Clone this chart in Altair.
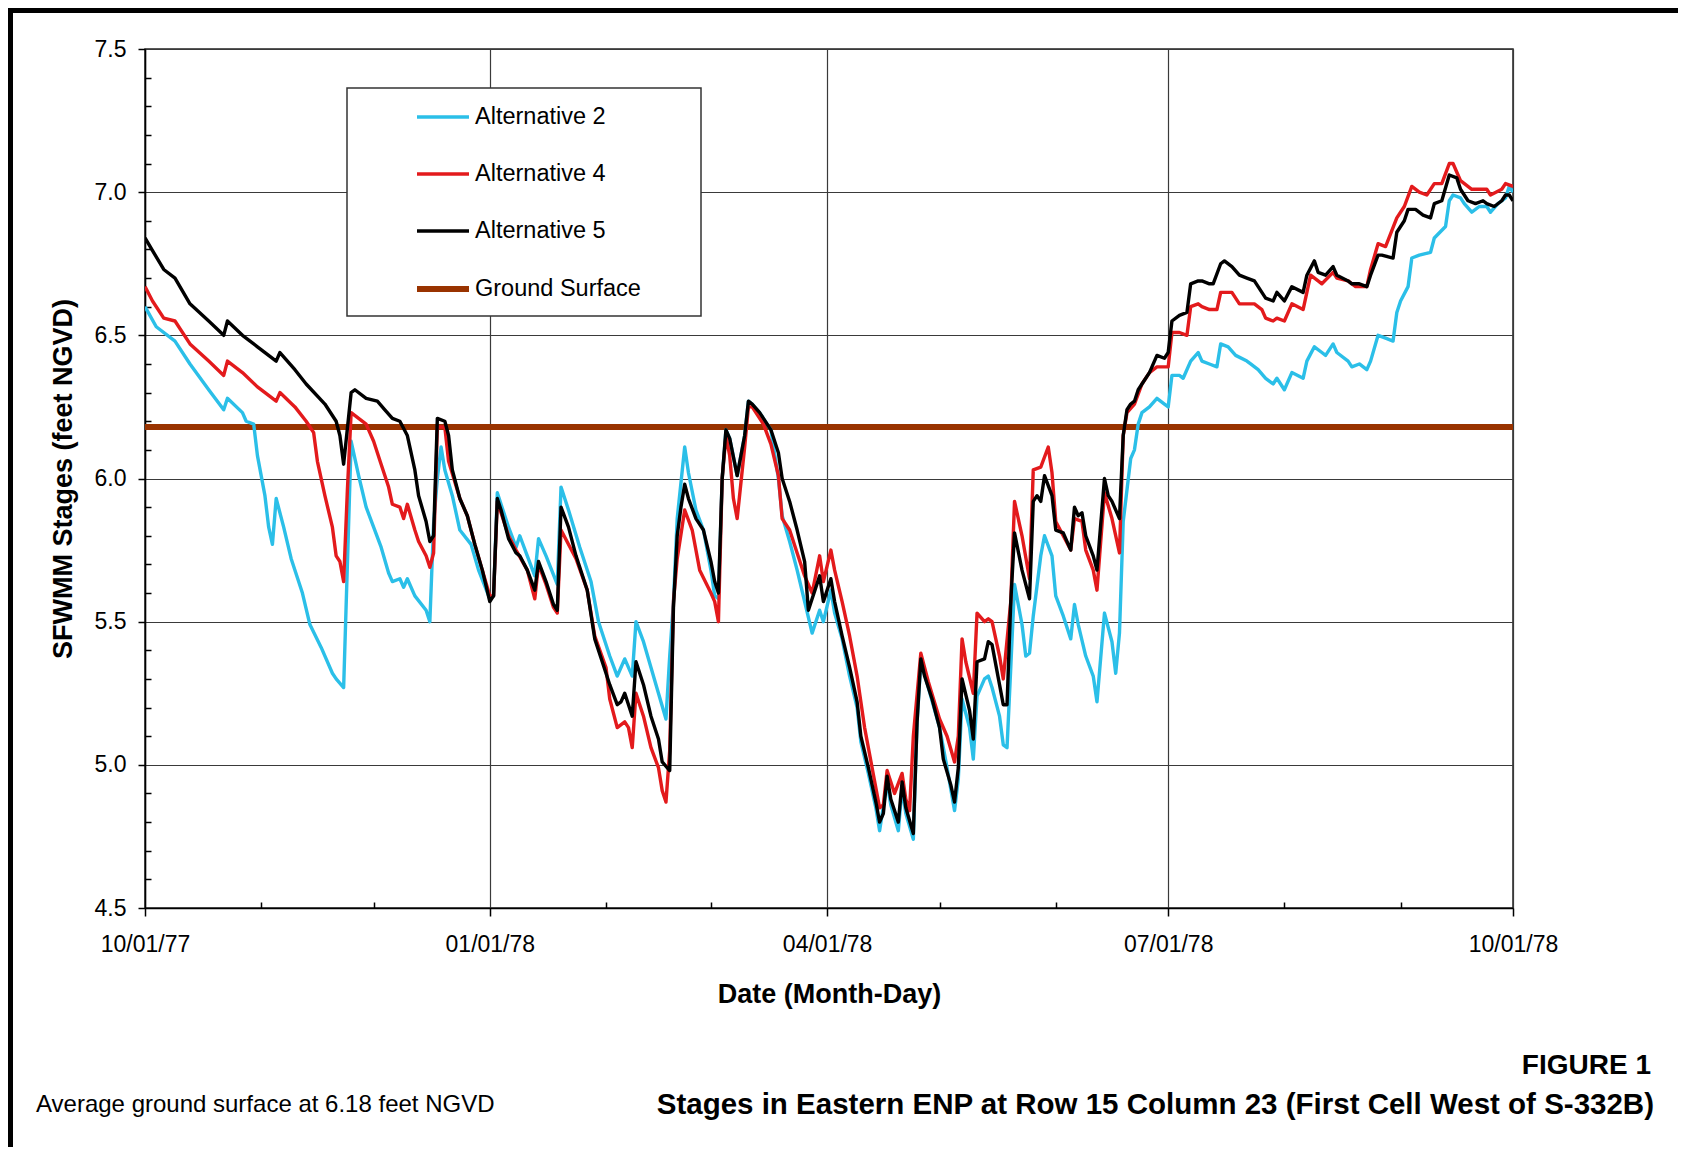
import altair as alt
import pandas as pd

FONT = "Liberation Sans"
START = "1977-10-01"
END = "1978-10-01"

SERIES = ["Alternative 2", "Alternative 4", "Alternative 5", "Ground Surface"]
COLORS = ["#2BBFE8", "#E31A1C", "#000000", "#993300"]
WIDTHS = [3.4, 3.4, 3.4, 6]

# day offsets from 10/01/77 and stages (feet NGVD)
ALT2_DAYS = [0, 3, 8, 12, 17, 21, 22, 26, 27, 29, 30, 32, 33, 34, 35, 37, 39, 42, 44, 47,
             50, 51, 53, 54, 55, 57, 59, 61, 63, 65, 66, 68, 69, 70, 72, 75, 76, 77, 78, 79,
             80, 82, 84, 87, 89, 92, 93, 94, 97, 99, 100, 102, 104, 105, 107, 110, 111, 113, 116, 119,
             121, 124, 126, 127, 128, 130, 131, 133, 135, 137, 139, 140, 141, 142, 144, 145, 147, 149, 151, 152,
             153, 154, 155, 156, 158, 160, 161, 162, 164, 165, 167, 169, 170, 172, 174, 176, 178, 180, 181, 183,
             184, 186, 188, 190, 191, 193, 195, 196, 198, 199, 201, 202, 203, 205, 206, 207, 209, 212, 214, 216,
             217, 218, 220, 221, 222, 224, 225, 226, 228, 229, 230, 231, 232, 234, 235, 236, 237, 239, 240, 242,
             243, 245, 247, 248, 249, 251, 253, 254, 256, 258, 259, 260, 261, 262, 263, 264, 265, 266, 268, 270,
             272, 273, 274, 276, 277, 279, 281, 282, 284, 286, 287, 289, 291, 294, 295, 297, 299, 301, 302, 304,
             306, 309, 310, 312, 314, 315, 317, 318, 321, 322, 324, 326, 327, 329, 331, 333, 334, 335, 337, 338,
             340, 343, 344, 347, 348, 349, 351, 352, 354, 356, 358, 359, 361, 363, 364, 365]
ALT2_STAGE = [6.60, 6.53, 6.48, 6.40, 6.31, 6.24, 6.28, 6.23, 6.20, 6.19, 6.08, 5.94, 5.83, 5.77, 5.93, 5.83, 5.72, 5.60, 5.49, 5.41,
              5.32, 5.30, 5.27, 5.70, 6.13, 6.01, 5.90, 5.83, 5.76, 5.67, 5.64, 5.65, 5.62, 5.65, 5.59, 5.54, 5.50, 5.84, 6.00, 6.11,
              6.03, 5.94, 5.82, 5.77, 5.68, 5.58, 5.59, 5.95, 5.83, 5.76, 5.80, 5.73, 5.66, 5.79, 5.73, 5.63, 5.97, 5.89, 5.76, 5.64,
              5.50, 5.38, 5.31, 5.34, 5.37, 5.31, 5.50, 5.43, 5.34, 5.25, 5.16, 5.38, 5.57, 5.86, 6.11, 6.02, 5.89, 5.82, 5.68, 5.59,
              5.58, 6.00, 6.17, 6.14, 6.01, 6.15, 6.27, 6.26, 6.23, 6.21, 6.17, 6.00, 5.87, 5.78, 5.68, 5.57, 5.46, 5.54, 5.50, 5.61,
              5.53, 5.44, 5.31, 5.20, 5.08, 4.97, 4.85, 4.77, 4.94, 4.86, 4.77, 4.92, 4.83, 4.74, 5.15, 5.36, 5.27, 5.13, 4.99, 4.84,
              4.95, 5.23, 5.13, 5.02, 5.24, 5.30, 5.31, 5.27, 5.17, 5.07, 5.06, 5.34, 5.63, 5.49, 5.38, 5.39, 5.52, 5.73, 5.80, 5.73,
              5.59, 5.52, 5.44, 5.56, 5.49, 5.38, 5.31, 5.22, 5.53, 5.43, 5.32, 5.46, 5.85, 5.96, 6.07, 6.10, 6.19, 6.23, 6.25, 6.28,
              6.26, 6.25, 6.36, 6.36, 6.35, 6.41, 6.44, 6.41, 6.40, 6.39, 6.47, 6.46, 6.43, 6.41, 6.40, 6.38, 6.35, 6.33, 6.35, 6.31,
              6.37, 6.35, 6.41, 6.46, 6.44, 6.43, 6.47, 6.44, 6.41, 6.39, 6.40, 6.38, 6.41, 6.50, 6.49, 6.48, 6.58, 6.62, 6.67, 6.77,
              6.78, 6.79, 6.84, 6.88, 6.97, 6.99, 6.98, 6.96, 6.93, 6.95, 6.95, 6.93, 6.96, 6.98, 7.02, 7.00]

ALT4_DAYS = [0, 2, 5, 8, 12, 17, 21, 22, 26, 30, 35, 36, 40, 43, 45, 46, 48, 50, 51, 52,
             53, 54, 55, 57, 59, 61, 63, 65, 66, 68, 69, 70, 72, 73, 75, 76, 77, 78, 80, 81,
             84, 86, 88, 90, 92, 93, 94, 97, 99, 102, 104, 105, 107, 109, 110, 111, 115, 118, 120, 123,
             124, 126, 128, 129, 130, 131, 133, 135, 137, 138, 139, 140, 141, 142, 144, 146, 148, 151, 152, 153,
             154, 155, 156, 157, 158, 160, 161, 162, 165, 167, 169, 170, 172, 174, 176, 178, 180, 181, 183, 184,
             186, 188, 190, 192, 194, 196, 197, 198, 200, 202, 203, 204, 205, 207, 209, 212, 214, 216, 217, 218,
             219, 221, 222, 224, 225, 226, 228, 229, 231, 232, 234, 236, 237, 239, 241, 242, 243, 245, 247, 248,
             250, 251, 253, 254, 256, 258, 260, 261, 262, 264, 266, 268, 270, 273, 274, 276, 278, 279, 281, 282,
             284, 286, 287, 290, 292, 294, 296, 298, 299, 301, 302, 304, 306, 309, 310, 311, 313, 314, 317, 318,
             321, 323, 326, 327, 329, 331, 334, 336, 338, 340, 342, 344, 346, 348, 349, 351, 354, 356, 358, 359,
             362, 363, 365]
ALT4_STAGE = [6.67, 6.62, 6.56, 6.55, 6.47, 6.41, 6.36, 6.41, 6.37, 6.32, 6.27, 6.30, 6.25, 6.20, 6.16, 6.06, 5.94, 5.83, 5.73, 5.71,
              5.64, 5.96, 6.23, 6.21, 6.19, 6.13, 6.05, 5.97, 5.91, 5.90, 5.86, 5.91, 5.82, 5.78, 5.73, 5.69, 5.74, 6.18, 6.18, 6.06,
              5.93, 5.87, 5.77, 5.68, 5.59, 5.59, 5.92, 5.80, 5.75, 5.68, 5.58, 5.70, 5.63, 5.55, 5.53, 5.82, 5.72, 5.61, 5.45, 5.34,
              5.23, 5.13, 5.15, 5.13, 5.06, 5.25, 5.17, 5.06, 4.99, 4.91, 4.87, 5.05, 5.57, 5.72, 5.89, 5.82, 5.68, 5.60, 5.57, 5.50,
              6.00, 6.15, 6.08, 5.93, 5.86, 6.11, 6.25, 6.25, 6.19, 6.12, 6.01, 5.86, 5.82, 5.74, 5.66, 5.60, 5.73, 5.64, 5.75, 5.68,
              5.57, 5.45, 5.31, 5.13, 4.99, 4.85, 4.86, 4.98, 4.90, 4.97, 4.88, 4.84, 5.10, 5.39, 5.29, 5.16, 5.10, 5.01, 5.10, 5.44,
              5.36, 5.25, 5.53, 5.50, 5.51, 5.50, 5.38, 5.30, 5.57, 5.92, 5.80, 5.65, 6.03, 6.04, 6.11, 6.02, 5.85, 5.80, 5.75, 5.86,
              5.85, 5.75, 5.68, 5.61, 5.95, 5.86, 5.74, 6.15, 6.23, 6.26, 6.33, 6.37, 6.39, 6.39, 6.51, 6.51, 6.50, 6.60, 6.61, 6.60,
              6.59, 6.59, 6.65, 6.65, 6.61, 6.61, 6.61, 6.59, 6.56, 6.55, 6.56, 6.55, 6.61, 6.59, 6.65, 6.71, 6.69, 6.68, 6.72, 6.70,
              6.69, 6.67, 6.67, 6.73, 6.82, 6.81, 6.91, 6.95, 7.02, 7.00, 6.99, 7.03, 7.03, 7.10, 7.10, 7.04, 7.01, 7.01, 7.01, 6.99,
              7.01, 7.03, 7.02]

ALT5_DAYS = [0, 5, 8, 12, 17, 21, 22, 26, 30, 35, 36, 40, 43, 48, 51, 52, 53, 55, 56, 59,
             62, 64, 66, 68, 70, 72, 73, 75, 76, 77, 78, 80, 81, 82, 84, 86, 88, 90, 92, 93,
             94, 95, 97, 99, 100, 102, 104, 105, 107, 109, 110, 111, 113, 115, 118, 120, 122, 124, 126, 127,
             128, 130, 131, 133, 135, 137, 138, 140, 141, 142, 143, 144, 145, 147, 149, 151, 152, 153, 154, 155,
             156, 158, 160, 161, 162, 164, 165, 167, 169, 170, 172, 174, 176, 177, 178, 180, 181, 183, 184, 186,
             188, 190, 191, 193, 195, 196, 197, 198, 199, 201, 202, 203, 205, 206, 207, 208, 210, 212, 213, 215,
             216, 217, 218, 220, 221, 222, 224, 225, 226, 228, 229, 230, 231, 232, 234, 236, 237, 238, 239, 240,
             242, 243, 245, 247, 248, 249, 250, 251, 253, 254, 256, 257, 258, 260, 261, 262, 263, 264, 265, 266,
             268, 270, 272, 273, 274, 276, 278, 279, 281, 282, 284, 285, 287, 288, 290, 292, 294, 296, 297, 299,
             301, 302, 304, 306, 309, 310, 312, 313, 315, 317, 318, 321, 322, 324, 326, 327, 329, 330, 333, 334,
             336, 337, 339, 341, 343, 344, 346, 348, 350, 351, 353, 355, 357, 358, 360, 362, 363, 364, 365]
ALT5_STAGE = [6.84, 6.73, 6.70, 6.61, 6.55, 6.50, 6.55, 6.50, 6.46, 6.41, 6.44, 6.38, 6.33, 6.26, 6.20, 6.15, 6.05, 6.30, 6.31, 6.28,
              6.27, 6.24, 6.21, 6.20, 6.15, 6.03, 5.94, 5.85, 5.78, 5.80, 6.21, 6.20, 6.15, 6.03, 5.93, 5.87, 5.77, 5.68, 5.57, 5.59,
              5.93, 5.89, 5.79, 5.74, 5.73, 5.68, 5.61, 5.71, 5.64, 5.56, 5.54, 5.90, 5.83, 5.73, 5.61, 5.44, 5.36, 5.28, 5.21, 5.22,
              5.25, 5.17, 5.36, 5.28, 5.17, 5.09, 5.01, 4.98, 5.55, 5.80, 5.90, 5.98, 5.93, 5.86, 5.82, 5.71, 5.64, 5.60, 6.00, 6.17,
              6.14, 6.01, 6.15, 6.27, 6.26, 6.23, 6.21, 6.17, 6.09, 6.00, 5.92, 5.82, 5.71, 5.54, 5.58, 5.66, 5.57, 5.65, 5.57, 5.45,
              5.34, 5.22, 5.10, 4.99, 4.87, 4.80, 4.83, 4.96, 4.88, 4.80, 4.94, 4.85, 4.76, 5.15, 5.37, 5.31, 5.23, 5.13, 5.02, 4.93,
              4.87, 4.99, 5.30, 5.19, 5.09, 5.36, 5.37, 5.43, 5.42, 5.28, 5.21, 5.21, 5.57, 5.81, 5.68, 5.58, 5.92, 5.94, 5.92, 6.01,
              5.94, 5.82, 5.81, 5.75, 5.90, 5.87, 5.88, 5.80, 5.73, 5.68, 6.00, 5.94, 5.92, 5.86, 6.15, 6.24, 6.26, 6.27, 6.31, 6.33,
              6.37, 6.43, 6.42, 6.44, 6.55, 6.57, 6.58, 6.68, 6.69, 6.69, 6.68, 6.68, 6.75, 6.76, 6.74, 6.71, 6.70, 6.69, 6.67, 6.63,
              6.62, 6.65, 6.62, 6.67, 6.65, 6.71, 6.76, 6.72, 6.71, 6.74, 6.71, 6.69, 6.68, 6.68, 6.67, 6.71, 6.78, 6.78, 6.77, 6.86,
              6.90, 6.94, 6.94, 6.92, 6.91, 6.96, 6.97, 7.06, 7.05, 7.01, 6.97, 6.96, 6.97, 6.96, 6.95, 6.97, 6.99, 6.99, 6.97]

GROUND_DAYS = [0, 365]
GROUND_STAGE = [6.18, 6.18]

X_MAJOR = ["1977-10-01", "1978-01-01", "1978-04-01", "1978-07-01", "1978-10-01"]
X_MINOR = ["1977-11-01", "1977-12-01", "1978-02-01", "1978-03-01",
           "1978-05-01", "1978-06-01", "1978-08-01", "1978-09-01"]
Y_MAJOR = [4.5, 5.0, 5.5, 6.0, 6.5, 7.0, 7.5]
Y_MINOR = [4.6, 4.7, 4.8, 4.9, 5.1, 5.2, 5.3, 5.4, 5.6, 5.7, 5.8, 5.9,
           6.1, 6.2, 6.3, 6.4, 6.6, 6.7, 6.8, 6.9, 7.1, 7.2, 7.3, 7.4]

Y_TITLE = "SFWMM Stages (feet NGVD)"
X_TITLE = "Date (Month-Day)"
FOOTNOTE = "Average ground surface at 6.18 feet NGVD"
FIG_LABEL = "FIGURE 1"
FIG_TITLE = "Stages in Eastern ENP at Row 15 Column 23 (First Cell West of S-332B)"

W, H = 1368, 859


def iso(d):
    return (pd.Timestamp(START) + pd.Timedelta(days=int(d))).strftime("%Y-%m-%dT%H:%M:%S")


def dt(s):
    t = pd.Timestamp(s)
    return alt.DateTime(year=t.year, month=t.month, date=t.day)


def frame(name, days, stages):
    return pd.DataFrame({"date": [iso(d) for d in days], "stage": stages, "series": name})


data = pd.concat([
    frame("Ground Surface", GROUND_DAYS, GROUND_STAGE),
    frame("Alternative 2", ALT2_DAYS, ALT2_STAGE),
    frame("Alternative 4", ALT4_DAYS, ALT4_STAGE),
    frame("Alternative 5", ALT5_DAYS, ALT5_STAGE),
], ignore_index=True)

xscale = alt.Scale(domain=[dt(START), dt(END)])
yscale = alt.Scale(domain=[4.5, 7.5], nice=False, zero=False)

legend = alt.Legend(
    title=None, orient="none", legendX=269, legendY=40,
    symbolType="stroke", symbolSize=2704, symbolStrokeWidth=3,
    labelFontSize=23.5, labelFont=FONT, labelColor="black", labelOffset=3,
    rowPadding=17, padding=0, labelLimit=400,
)

lines = alt.Chart(data).mark_line(clip=True, strokeJoin="round", strokeCap="butt").encode(
    x=alt.X("date:T", scale=xscale,
            axis=alt.Axis(values=[dt(v) for v in X_MAJOR], format="%m/%d/%y", grid=True,
                          labelFlush=False, tickSize=8, labelPadding=17,
                          title=X_TITLE, titlePadding=25)),
    y=alt.Y("stage:Q", scale=yscale,
            axis=alt.Axis(values=Y_MAJOR, format=".1f", grid=True, tickSize=7,
                          labelPadding=12, title=Y_TITLE, titlePadding=17)),
    color=alt.Color("series:N", scale=alt.Scale(domain=SERIES, range=COLORS), legend=legend),
    strokeWidth=alt.StrokeWidth("series:N",
                                scale=alt.Scale(type="ordinal", domain=SERIES, range=WIDTHS),
                                legend=legend),
)

corners = pd.DataFrame({"date": [iso(0), iso(365)], "stage": [4.5, 7.5]})
minor = alt.Chart(corners).mark_point(opacity=0).encode(
    x=alt.X("date:T", scale=xscale,
            axis=alt.Axis(orient="top", offset=-H, values=[dt(v) for v in X_MINOR], labels=False,
                          domain=False, grid=False, tickSize=6, title=None)),
    y=alt.Y("stage:Q", scale=yscale,
            axis=alt.Axis(orient="right", offset=-W, values=Y_MINOR, labels=False,
                          domain=False, grid=False, tickSize=6, title=None)),
)

one = pd.DataFrame({"k": [0]})
legend_box = alt.Chart(one).mark_rect(fill="white", stroke="#333333", strokeWidth=1.5).encode(
    x=alt.value(202), x2=alt.value(556), y=alt.value(39), y2=alt.value(267))

border_left = alt.Chart(one).mark_rule(color="black", strokeWidth=5).encode(
    x=alt.value(-134.5), y=alt.value(-41), y2=alt.value(1098))
border_top = alt.Chart(one).mark_rule(color="black", strokeWidth=5).encode(
    x=alt.value(-137), x2=alt.value(1533), y=alt.value(-38.5))

foot = alt.Chart(pd.DataFrame({"t": [FOOTNOTE]})).mark_text(
    align="left", baseline="middle", font=FONT, fontSize=24, color="black").encode(
    x=alt.value(-109), y=alt.value(1056), text="t:N")
fig_label = alt.Chart(pd.DataFrame({"t": [FIG_LABEL]})).mark_text(
    align="right", baseline="middle", font=FONT, fontSize=28, fontWeight="bold", color="black").encode(
    x=alt.value(1506), y=alt.value(1017), text="t:N")
fig_title = alt.Chart(pd.DataFrame({"t": [FIG_TITLE]})).mark_text(
    align="right", baseline="middle", font=FONT, fontSize=29.5, fontWeight="bold", color="black").encode(
    x=alt.value(1509), y=alt.value(1056), text="t:N")

chart = alt.layer(
    legend_box, lines, minor, border_left, border_top, foot, fig_label, fig_title
).resolve_axis(
    x="independent", y="independent"
).properties(
    width=W, height=H,
    autosize=alt.AutoSizeParams(type="none"),
    padding={"left": 137, "top": 41, "right": 165, "bottom": 239},
    background="white",
).configure_view(
    stroke="#222222", strokeWidth=1.5
).configure_axis(
    domainColor="black", domainWidth=1.5, tickColor="black", tickWidth=1.5,
    gridColor="#3a3a3a", gridWidth=1.2, gridOpacity=1,
    labelFont=FONT, labelFontSize=23, labelColor="black",
    titleFont=FONT, titleFontSize=27, titleFontWeight="bold", titleColor="black",
)

chart.save("out.html", embed_options={"renderer": "svg", "actions": False})
